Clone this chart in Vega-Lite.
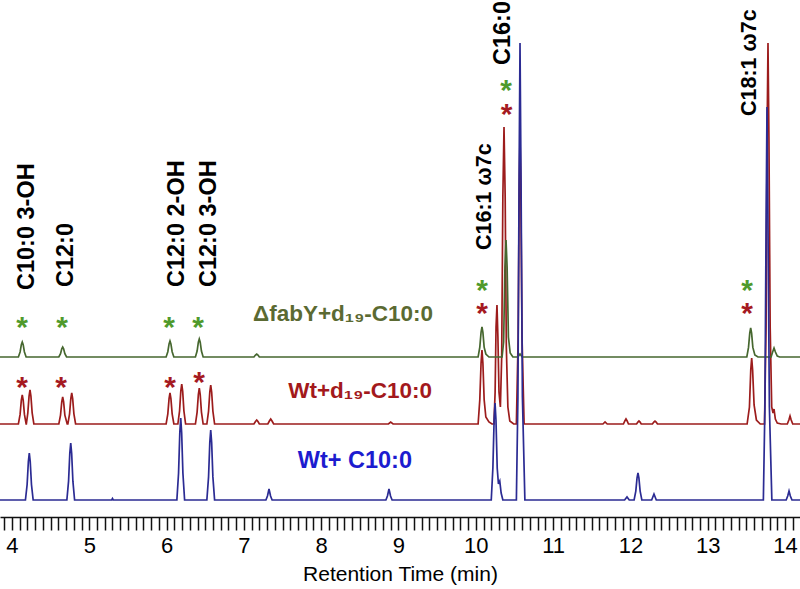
{
  "$schema": "https://vega.github.io/schema/vega-lite/v6.json",
  "width": 800,
  "height": 517,
  "autosize": {"type": "none"},
  "padding": {"left": 0, "top": 0, "right": 0, "bottom": 72},
  "background": "white",
  "config": {"view": {"stroke": null}, "font": "Liberation Sans"},
  "datasets": {
    "blue": [
      {"time": 3.845, "signal": 17},
      {"time": 4.174, "signal": 17}, {"time": 4.196, "signal": 32.5}, {"time": 4.212, "signal": 55.5}, {"time": 4.224, "signal": 64}, {"time": 4.236, "signal": 55.5}, {"time": 4.252, "signal": 32.5}, {"time": 4.274, "signal": 17},
      {"time": 4.71, "signal": 17}, {"time": 4.732, "signal": 35.8}, {"time": 4.748, "signal": 63.7}, {"time": 4.76, "signal": 74}, {"time": 4.772, "signal": 63.7}, {"time": 4.788, "signal": 35.8}, {"time": 4.81, "signal": 17},
      {"time": 5.29, "signal": 17}, {"time": 5.3, "signal": 18.5}, {"time": 5.31, "signal": 17},
      {"time": 6.133, "signal": 17}, {"time": 6.155, "signal": 44}, {"time": 6.171, "signal": 84.2}, {"time": 6.183, "signal": 99}, {"time": 6.195, "signal": 84.2}, {"time": 6.211, "signal": 44}, {"time": 6.233, "signal": 17},
      {"time": 6.521, "signal": 17}, {"time": 6.543, "signal": 40.1}, {"time": 6.559, "signal": 74.4}, {"time": 6.571, "signal": 87}, {"time": 6.583, "signal": 74.4}, {"time": 6.599, "signal": 40.1}, {"time": 6.621, "signal": 17},
      {"time": 7.285, "signal": 17}, {"time": 7.305, "signal": 21}, {"time": 7.325, "signal": 28}, {"time": 7.345, "signal": 21}, {"time": 7.365, "signal": 17},
      {"time": 8.837, "signal": 17}, {"time": 8.857, "signal": 21}, {"time": 8.877, "signal": 28}, {"time": 8.897, "signal": 21}, {"time": 8.917, "signal": 17},
      {"time": 10.2, "signal": 17}, {"time": 10.221, "signal": 49}, {"time": 10.237, "signal": 97}, {"time": 10.249, "signal": 114}, {"time": 10.261, "signal": 97}, {"time": 10.277, "signal": 49}, {"time": 10.293, "signal": 33}, {"time": 10.31, "signal": 36}, {"time": 10.328, "signal": 24}, {"time": 10.35, "signal": 17},
      {"time": 10.525, "signal": 17}, {"time": 10.545, "signal": 120}, {"time": 10.56, "signal": 340}, {"time": 10.572, "signal": 474}, {"time": 10.585, "signal": 340}, {"time": 10.603, "signal": 120}, {"time": 10.635, "signal": 17},
      {"time": 11.925, "signal": 17}, {"time": 11.956, "signal": 20}, {"time": 11.985, "signal": 17},
      {"time": 12.048, "signal": 17}, {"time": 12.07, "signal": 25.9}, {"time": 12.086, "signal": 39.1}, {"time": 12.098, "signal": 44}, {"time": 12.11, "signal": 39.1}, {"time": 12.126, "signal": 25.9}, {"time": 12.148, "signal": 17},
      {"time": 12.275, "signal": 17}, {"time": 12.29, "signal": 20}, {"time": 12.305, "signal": 23}, {"time": 12.32, "signal": 20}, {"time": 12.335, "signal": 17},
      {"time": 13.72, "signal": 17}, {"time": 13.74, "signal": 110}, {"time": 13.755, "signal": 290}, {"time": 13.767, "signal": 410}, {"time": 13.78, "signal": 290}, {"time": 13.798, "signal": 110}, {"time": 13.83, "signal": 17},
      {"time": 14.015, "signal": 17}, {"time": 14.035, "signal": 21}, {"time": 14.052, "signal": 26}, {"time": 14.069, "signal": 21}, {"time": 14.09, "signal": 17},
      {"time": 14.194, "signal": 17}
    ],
    "red": [
      {"time": 3.845, "signal": 93},
      {"time": 4.083, "signal": 93}, {"time": 4.105, "signal": 102.6}, {"time": 4.121, "signal": 116.8}, {"time": 4.133, "signal": 122}, {"time": 4.145, "signal": 116.8}, {"time": 4.161, "signal": 102.6}, {"time": 4.183, "signal": 93},
      {"time": 4.186, "signal": 93}, {"time": 4.205, "signal": 104.2}, {"time": 4.221, "signal": 120.9}, {"time": 4.233, "signal": 127}, {"time": 4.245, "signal": 120.9}, {"time": 4.261, "signal": 104.2}, {"time": 4.283, "signal": 93},
      {"time": 4.606, "signal": 93}, {"time": 4.628, "signal": 101.9}, {"time": 4.644, "signal": 115.1}, {"time": 4.656, "signal": 120}, {"time": 4.668, "signal": 115.1}, {"time": 4.684, "signal": 101.9}, {"time": 4.714, "signal": 93},
      {"time": 4.723, "signal": 93}, {"time": 4.745, "signal": 103.2}, {"time": 4.761, "signal": 118.4}, {"time": 4.773, "signal": 124}, {"time": 4.785, "signal": 118.4}, {"time": 4.801, "signal": 103.2}, {"time": 4.823, "signal": 93},
      {"time": 5.994, "signal": 93}, {"time": 6.016, "signal": 103.2}, {"time": 6.032, "signal": 118.4}, {"time": 6.044, "signal": 124}, {"time": 6.056, "signal": 118.4}, {"time": 6.072, "signal": 103.2}, {"time": 6.094, "signal": 93},
      {"time": 6.146, "signal": 93}, {"time": 6.168, "signal": 106.2}, {"time": 6.184, "signal": 125.8}, {"time": 6.196, "signal": 133}, {"time": 6.208, "signal": 125.8}, {"time": 6.224, "signal": 106.2}, {"time": 6.246, "signal": 93},
      {"time": 6.373, "signal": 93}, {"time": 6.395, "signal": 104.9}, {"time": 6.411, "signal": 122.5}, {"time": 6.423, "signal": 129}, {"time": 6.435, "signal": 122.5}, {"time": 6.451, "signal": 104.9}, {"time": 6.473, "signal": 93},
      {"time": 6.521, "signal": 93}, {"time": 6.543, "signal": 105.9}, {"time": 6.559, "signal": 125}, {"time": 6.571, "signal": 132}, {"time": 6.583, "signal": 125}, {"time": 6.599, "signal": 105.9}, {"time": 6.621, "signal": 93},
      {"time": 7.13, "signal": 93}, {"time": 7.15, "signal": 95.5}, {"time": 7.166, "signal": 97}, {"time": 7.182, "signal": 95.5}, {"time": 7.2, "signal": 93},
      {"time": 7.31, "signal": 93}, {"time": 7.33, "signal": 96}, {"time": 7.347, "signal": 98}, {"time": 7.364, "signal": 96}, {"time": 7.385, "signal": 93},
      {"time": 8.87, "signal": 93}, {"time": 8.899, "signal": 95}, {"time": 8.93, "signal": 93},
      {"time": 10.03, "signal": 93}, {"time": 10.052, "signal": 117.4}, {"time": 10.068, "signal": 153.7}, {"time": 10.08, "signal": 167}, {"time": 10.092, "signal": 153.7}, {"time": 10.108, "signal": 117.4}, {"time": 10.13, "signal": 100}, {"time": 10.17, "signal": 95}, {"time": 10.21, "signal": 93},
      {"time": 10.235, "signal": 93}, {"time": 10.25, "signal": 125}, {"time": 10.262, "signal": 190}, {"time": 10.274, "signal": 212}, {"time": 10.286, "signal": 180}, {"time": 10.3, "signal": 125}, {"time": 10.318, "signal": 110},
      {"time": 10.335, "signal": 160}, {"time": 10.35, "signal": 320}, {"time": 10.365, "signal": 390}, {"time": 10.38, "signal": 320}, {"time": 10.395, "signal": 170}, {"time": 10.415, "signal": 110}, {"time": 10.44, "signal": 96}, {"time": 10.49, "signal": 93},
      {"time": 10.525, "signal": 93}, {"time": 10.548, "signal": 180}, {"time": 10.562, "signal": 330}, {"time": 10.572, "signal": 380}, {"time": 10.582, "signal": 330}, {"time": 10.598, "signal": 180}, {"time": 10.625, "signal": 93},
      {"time": 11.645, "signal": 93}, {"time": 11.672, "signal": 95}, {"time": 11.7, "signal": 93},
      {"time": 11.91, "signal": 93}, {"time": 11.928, "signal": 96}, {"time": 11.943, "signal": 98}, {"time": 11.958, "signal": 96}, {"time": 11.975, "signal": 93},
      {"time": 12.08, "signal": 93}, {"time": 12.097, "signal": 95}, {"time": 12.111, "signal": 96}, {"time": 12.125, "signal": 95}, {"time": 12.14, "signal": 93},
      {"time": 12.285, "signal": 93}, {"time": 12.303, "signal": 95}, {"time": 12.318, "signal": 96}, {"time": 12.333, "signal": 95}, {"time": 12.35, "signal": 93},
      {"time": 13.51, "signal": 93}, {"time": 13.54, "signal": 110}, {"time": 13.557, "signal": 147}, {"time": 13.569, "signal": 159}, {"time": 13.581, "signal": 147}, {"time": 13.6, "signal": 112}, {"time": 13.63, "signal": 97}, {"time": 13.68, "signal": 93},
      {"time": 13.735, "signal": 93}, {"time": 13.755, "signal": 190}, {"time": 13.768, "signal": 380}, {"time": 13.78, "signal": 474}, {"time": 13.792, "signal": 380}, {"time": 13.808, "signal": 190}, {"time": 13.828, "signal": 110},
      {"time": 13.845, "signal": 104}, {"time": 13.858, "signal": 108}, {"time": 13.875, "signal": 98}, {"time": 13.9, "signal": 94}, {"time": 13.95, "signal": 93},
      {"time": 14.03, "signal": 93}, {"time": 14.05, "signal": 97}, {"time": 14.065, "signal": 101}, {"time": 14.08, "signal": 97}, {"time": 14.1, "signal": 93},
      {"time": 14.194, "signal": 93}
    ],
    "green": [
      {"time": 3.845, "signal": 160},
      {"time": 4.083, "signal": 160}, {"time": 4.105, "signal": 165}, {"time": 4.121, "signal": 172.3}, {"time": 4.133, "signal": 175}, {"time": 4.145, "signal": 172.3}, {"time": 4.161, "signal": 165}, {"time": 4.183, "signal": 160},
      {"time": 4.606, "signal": 160}, {"time": 4.628, "signal": 163.3}, {"time": 4.644, "signal": 168.2}, {"time": 4.656, "signal": 170}, {"time": 4.668, "signal": 168.2}, {"time": 4.684, "signal": 163.3}, {"time": 4.706, "signal": 160},
      {"time": 5.994, "signal": 160}, {"time": 6.016, "signal": 165.3}, {"time": 6.032, "signal": 173.1}, {"time": 6.044, "signal": 176}, {"time": 6.056, "signal": 173.1}, {"time": 6.072, "signal": 165.3}, {"time": 6.094, "signal": 160},
      {"time": 6.373, "signal": 160}, {"time": 6.395, "signal": 165.9}, {"time": 6.411, "signal": 174.8}, {"time": 6.423, "signal": 178}, {"time": 6.435, "signal": 174.8}, {"time": 6.451, "signal": 165.9}, {"time": 6.473, "signal": 160},
      {"time": 7.13, "signal": 160}, {"time": 7.15, "signal": 162}, {"time": 7.166, "signal": 163}, {"time": 7.182, "signal": 162}, {"time": 7.2, "signal": 160},
      {"time": 10.03, "signal": 160}, {"time": 10.052, "signal": 169.9}, {"time": 10.068, "signal": 184.6}, {"time": 10.08, "signal": 190}, {"time": 10.092, "signal": 184.6}, {"time": 10.108, "signal": 169.9}, {"time": 10.13, "signal": 163}, {"time": 10.17, "signal": 160},
      {"time": 10.34, "signal": 160}, {"time": 10.36, "signal": 175}, {"time": 10.377, "signal": 250}, {"time": 10.391, "signal": 277}, {"time": 10.405, "signal": 250}, {"time": 10.422, "signal": 180}, {"time": 10.445, "signal": 164}, {"time": 10.48, "signal": 160},
      {"time": 10.545, "signal": 160}, {"time": 10.572, "signal": 163}, {"time": 10.6, "signal": 160},
      {"time": 13.506, "signal": 160}, {"time": 13.528, "signal": 169.6}, {"time": 13.544, "signal": 183.8}, {"time": 13.556, "signal": 189}, {"time": 13.568, "signal": 183.8}, {"time": 13.584, "signal": 169.6}, {"time": 13.61, "signal": 162}, {"time": 13.65, "signal": 160},
      {"time": 13.82, "signal": 160}, {"time": 13.84, "signal": 165}, {"time": 13.858, "signal": 169}, {"time": 13.876, "signal": 165}, {"time": 13.9, "signal": 161}, {"time": 13.93, "signal": 160},
      {"time": 14.194, "signal": 160}
    ],
    "compounds": [
      {"label": "C10:0 3-OH", "time": 4.194, "signal": 227},
      {"label": "C12:0", "time": 4.695, "signal": 230},
      {"label": "C12:0 2-OH", "time": 6.131, "signal": 230},
      {"label": "C12:0 3-OH", "time": 6.553, "signal": 230},
      {"label": "C16:0", "time": 10.352, "signal": 452}
    ],
    "compoundsOmega": [
      {"label": "C16:1 ω7c", "time": 10.119, "signal": 267},
      {"label": "C18:1 ω7c", "time": 13.547, "signal": 401}
    ],
    "traceLabels": [
      {"label": "ΔfabY+d₁₉-C10:0", "time": 9.447, "signal": 196, "group": "lab_g"},
      {"label": "Wt+d₁₉-C10:0", "time": 9.434, "signal": 119, "group": "lab_r"}
    ],
    "blueLabel": [
      {"label": "Wt+ C10:0", "time": 9.175, "signal": 49, "group": "lab_b"}
    ],
    "asterisks": [
      {"time": 4.13, "signal": 197, "group": "ast_g"},
      {"time": 4.647, "signal": 197, "group": "ast_g"},
      {"time": 6.031, "signal": 197, "group": "ast_g"},
      {"time": 6.406, "signal": 197, "group": "ast_g"},
      {"time": 10.08, "signal": 234, "group": "ast_g"},
      {"time": 10.391, "signal": 434, "group": "ast_g"},
      {"time": 13.509, "signal": 234, "group": "ast_g"},
      {"time": 4.13, "signal": 137, "group": "ast_r"},
      {"time": 4.634, "signal": 137, "group": "ast_r"},
      {"time": 6.044, "signal": 137, "group": "ast_r"},
      {"time": 6.419, "signal": 142, "group": "ast_r"},
      {"time": 10.08, "signal": 211, "group": "ast_r"},
      {"time": 10.4, "signal": 410, "group": "ast_r"},
      {"time": 13.509, "signal": 211, "group": "ast_r"}
    ]
  },
  "encoding": {
    "x": {
      "field": "time",
      "type": "quantitative",
      "scale": {"domain": [3.845, 14.194], "nice": false, "zero": false},
      "axis": {
        "title": "Retention Time (min)",
        "values": [3.9, 4, 4.1, 4.2, 4.3, 4.4, 4.5, 4.6, 4.7, 4.8, 4.9, 5, 5.1, 5.2, 5.3, 5.4, 5.5, 5.6, 5.7, 5.8, 5.9, 6, 6.1, 6.2, 6.3, 6.4, 6.5, 6.6, 6.7, 6.8, 6.9, 7, 7.1, 7.2, 7.3, 7.4, 7.5, 7.6, 7.7, 7.8, 7.9, 8, 8.1, 8.2, 8.3, 8.4, 8.5, 8.6, 8.7, 8.8, 8.9, 9, 9.1, 9.2, 9.3, 9.4, 9.5, 9.6, 9.7, 9.8, 9.9, 10, 10.1, 10.2, 10.3, 10.4, 10.5, 10.6, 10.7, 10.8, 10.9, 11, 11.1, 11.2, 11.3, 11.4, 11.5, 11.6, 11.7, 11.8, 11.9, 12, 12.1, 12.2, 12.3, 12.4, 12.5, 12.6, 12.7, 12.8, 12.9, 13, 13.1, 13.2, 13.3, 13.4, 13.5, 13.6, 13.7, 13.8, 13.9, 14, 14.1],
        "labelExpr": "abs(datum.value - round(datum.value)) < 0.01 ? '' + round(datum.value) : ''",
        "labelFontSize": 22,
        "labelColor": "#000000",
        "labelOverlap": false,
        "labelFlush": false,
        "labelPadding": 5,
        "tickSize": 13,
        "tickColor": "#111111",
        "tickWidth": 1.5,
        "domainColor": "#111111",
        "domainWidth": 1.5,
        "grid": false,
        "titleFontSize": 21,
        "titleFontWeight": "normal",
        "titleColor": "#000000",
        "titlePadding": 7,
        "encode": {
          "ticks": {
            "update": {
              "y2": {"signal": "abs(datum.value - round(datum.value)) < 0.01 ? 13 : (abs(2 * datum.value - round(2 * datum.value)) < 0.01 ? 9 : 6)"}
            }
          }
        }
      }
    },
    "y": {
      "field": "signal",
      "type": "quantitative",
      "scale": {"domain": [0, 517], "nice": false, "zero": false},
      "axis": null
    }
  },
  "layer": [
    {"data": {"name": "red"}, "mark": {"type": "line", "color": "#9c1c1c", "strokeWidth": 1.7}},
    {"data": {"name": "green"}, "mark": {"type": "line", "color": "#46672f", "strokeWidth": 1.7}},
    {"data": {"name": "blue"}, "mark": {"type": "line", "color": "#2b2b93", "strokeWidth": 1.7}},
    {
      "data": {"name": "compounds"},
      "mark": {"type": "text", "angle": 270, "align": "left", "baseline": "middle", "fontSize": 23.5, "fontWeight": "bold", "color": "#000000"},
      "encoding": {"text": {"field": "label", "type": "nominal"}}
    },
    {
      "data": {"name": "compoundsOmega"},
      "mark": {"type": "text", "angle": 270, "align": "left", "baseline": "middle", "fontSize": 21.5, "fontWeight": "bold", "color": "#000000"},
      "encoding": {"text": {"field": "label", "type": "nominal"}}
    },
    {
      "data": {"name": "traceLabels"},
      "mark": {"type": "text", "align": "right", "baseline": "alphabetic", "fontSize": 22.5, "fontWeight": "bold"},
      "encoding": {
        "text": {"field": "label", "type": "nominal"},
        "color": {"field": "group", "type": "nominal", "scale": {"domain": ["lab_g", "lab_r", "lab_b", "ast_g", "ast_r"], "range": ["#5b6a32", "#a3191c", "#1c1ccf", "#4f9a2c", "#a51a22"]}, "legend": null}
      }
    },
    {
      "data": {"name": "blueLabel"},
      "mark": {"type": "text", "align": "right", "baseline": "alphabetic", "fontSize": 23.5, "fontWeight": "bold"},
      "encoding": {
        "text": {"field": "label", "type": "nominal"},
        "color": {"field": "group", "type": "nominal", "scale": {"domain": ["lab_g", "lab_r", "lab_b", "ast_g", "ast_r"], "range": ["#5b6a32", "#a3191c", "#1c1ccf", "#4f9a2c", "#a51a22"]}, "legend": null}
      }
    },
    {
      "data": {"name": "asterisks"},
      "mark": {"type": "text", "align": "center", "baseline": "middle", "fontSize": 30, "fontWeight": "bold", "dy": 8},
      "encoding": {
        "text": {"value": "*"},
        "color": {"field": "group", "type": "nominal", "scale": {"domain": ["lab_g", "lab_r", "lab_b", "ast_g", "ast_r"], "range": ["#5b6a32", "#a3191c", "#1c1ccf", "#4f9a2c", "#a51a22"]}, "legend": null}
      }
    }
  ]
}
